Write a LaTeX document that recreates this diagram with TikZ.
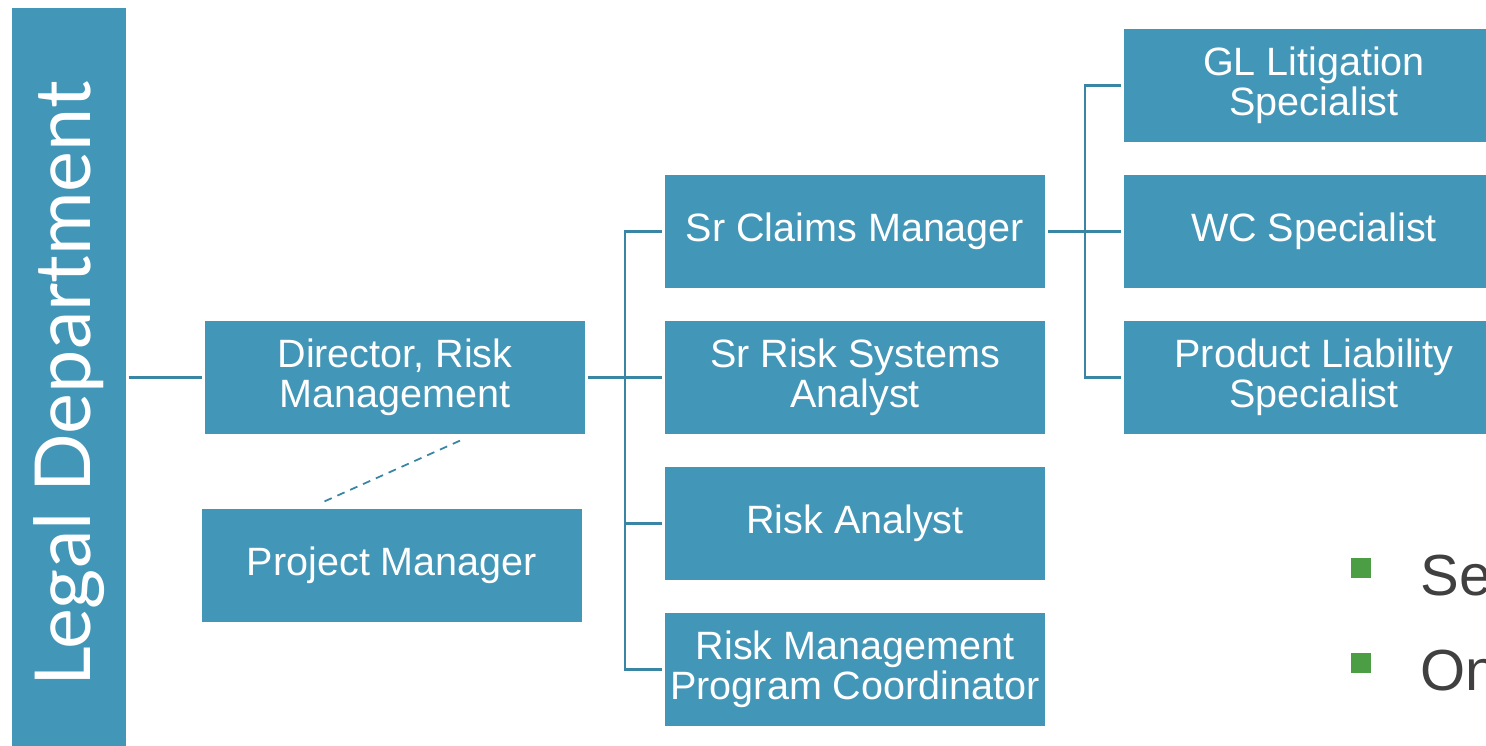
\documentclass[tikz,border=0pt]{standalone}
\usepackage{fontspec}
\setmainfont{Liberation Sans}
\newfontfamily\deptfont{Lato}
\usetikzlibrary{calc}

\definecolor{boxblue}{RGB}{66,150,183}
\definecolor{linkblue}{RGB}{56,134,163}
\definecolor{bulletgreen}{RGB}{76,158,68}
\definecolor{bodygrey}{RGB}{64,64,64}

\tikzset{
  unit/.style={fill=boxblue, text=white, minimum width=7.6cm, minimum height=2.26cm,
    inner sep=0pt, outer sep=1.5pt, align=center,
    font=\fontsize{22.5}{22.5}\selectfont},
  link/.style={draw=linkblue, line width=1.6pt},
  bulletbox/.style={fill=bulletgreen, minimum size=0.4cm, inner sep=0pt},
  bullettext/.style={text=bodygrey, inner sep=0pt, anchor=base west,
    font=\fontsize{33}{33}\selectfont},
}

\begin{document}
\begin{tikzpicture}[x=0.02cm, y=-0.02cm]
\useasboundingbox (0,0) rectangle (1486,745);
\clip (0,0) rectangle (1486,745);
% department banner (rotated, so its south anchor faces right)
\node[unit, rotate=90, minimum width=15.04cm, minimum height=2.28cm,
  font=\deptfont\fontsize{44}{44}\selectfont] (legal) at (69,384) {Legal Department};
% director and dotted-line report
\node[unit] (dir) at (395,377.5) {Director, Risk\\Management};
\node[unit] (pm)  at (392,565.5) {Project Manager};
% direct reports
\node[unit] (claims)  at (855,231.5) {Sr Claims Manager};
\node[unit] (systems) at (855,377.5) {Sr Risk Systems\\Analyst};
\node[unit] (analyst) at (855,523.5) {Risk Analyst};
\node[unit] (coord)   at (855,669.5) {Risk Management\\Program Coordinator};
% claims specialists
\node[unit] (gl)      at (1314,85.5)  {GL Litigation\\Specialist};
\node[unit] (wc)      at (1314,231.5) {WC Specialist};
\node[unit] (product) at (1314,377.5) {Product Liability\\Specialist};
% connectors
\coordinate (dirsplit)    at (625,377.5);
\coordinate (claimsplit)  at (1085,231.5);
\draw[link] (dir.west -| legal.south) -- (dir.west);
\draw[link] (dir.east) -- (systems.west);
\draw[link] (dirsplit) |- (claims.west);
\draw[link] (dirsplit) |- (analyst.west);
\draw[link] (dirsplit) |- (coord.west);
\draw[link] (claims.east) -- (wc.west);
\draw[link] (claimsplit) |- (gl.west);
\draw[link] (claimsplit) |- (product.west);
\draw[draw=linkblue, line width=1pt, dash pattern=on 4.5pt off 3.5pt]
  ($(dir.south)+(65,4)$) -- ($(pm.north)+(-72,-3)$);
% bullet list
\node[bulletbox] (b1) at (1361,568) {};
\node[bulletbox] (b2) at (1361,663) {};
\node[bullettext] (t1) at (1420,595) {Se};
\node[bullettext] (t2) at (1420,690) {On};
\end{tikzpicture}
\end{document}
